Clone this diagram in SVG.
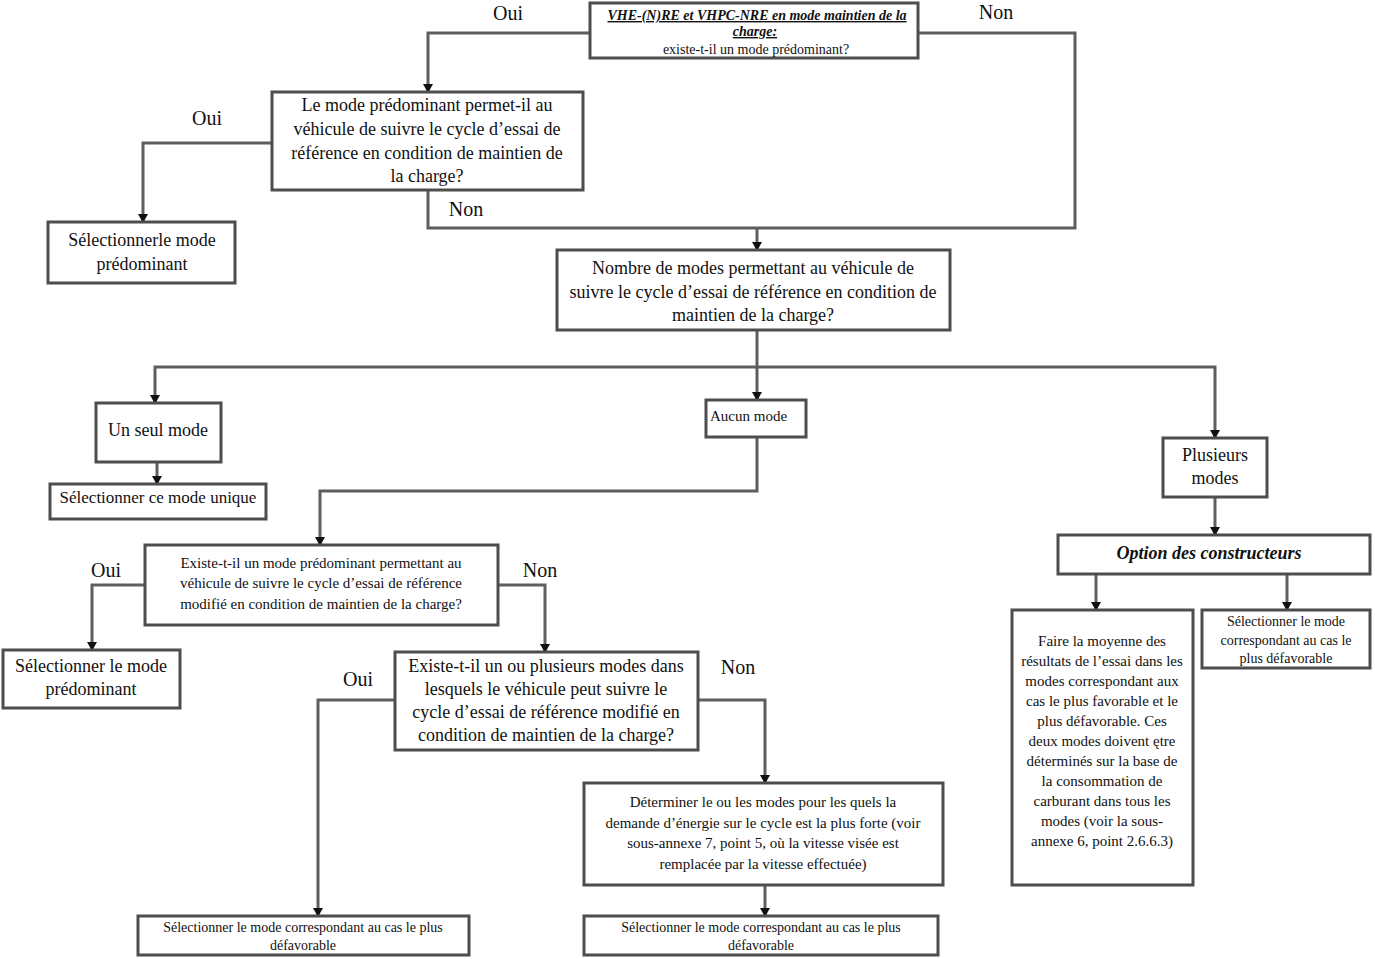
<svg xmlns="http://www.w3.org/2000/svg" width="1375" height="959" viewBox="0 0 1375 959">
<defs>
<marker id="ah" markerUnits="userSpaceOnUse" markerWidth="9" markerHeight="10" refX="8" refY="5" orient="auto" viewBox="0 0 9 10">
<path d="M0,0 L9,5 L0,10 Z" fill="#111"/>
</marker>
<style>
.box{fill:#fff;stroke:#4d4d4d;stroke-width:3}
.ln{fill:none;stroke:#5e5e5e;stroke-width:3}
.arr{fill:none;stroke:#5e5e5e;stroke-width:3;marker-end:url(#ah)}
text{font-family:"Liberation Serif","Times New Roman",serif;fill:#111;text-anchor:middle}
.lbl{font-size:20px}
.t18{font-size:18px}
.t17{font-size:17px}
.t15{font-size:15px}
.t14{font-size:14px}
</style>
</defs>
<rect width="1375" height="959" fill="#fff"/>
<g id="connectors">
<polyline class="arr" points="590,33 428,33 428,92"/>
<polyline class="ln" points="918,33 1075,33 1075,228 757,228"/>
<polyline class="arr" points="272,143 143,143 143,222"/>
<polyline class="ln" points="428,190 428,228 757,228"/>
<line class="arr" x1="757" y1="228" x2="757" y2="250"/>
<line class="ln" x1="757" y1="330" x2="757" y2="367"/>
<polyline class="arr" points="757,367 155,367 155,403"/>
<line class="arr" x1="757" y1="367" x2="757" y2="400"/>
<polyline class="arr" points="757,367 1215,367 1215,438"/>
<line class="arr" x1="157" y1="462" x2="157" y2="484"/>
<polyline class="arr" points="757,437 757,491 320,491 320,545"/>
<line class="arr" x1="1215" y1="497" x2="1215" y2="535"/>
<line class="arr" x1="1096" y1="574" x2="1096" y2="610"/>
<line class="arr" x1="1287" y1="574" x2="1287" y2="610"/>
<polyline class="arr" points="145,585 92,585 92,650"/>
<polyline class="arr" points="498,585 545,585 545,652"/>
<polyline class="arr" points="395,700 318,700 318,916"/>
<polyline class="arr" points="698,700 765,700 765,783"/>
<line class="arr" x1="765" y1="885" x2="765" y2="916"/>
</g>
<g id="labels">
<text class="lbl" x="508" y="20">Oui</text>
<text class="lbl" x="996" y="19">Non</text>
<text class="lbl" x="207" y="125">Oui</text>
<text class="lbl" x="466" y="216">Non</text>
<text class="lbl" x="106" y="577">Oui</text>
<text class="lbl" x="540" y="577">Non</text>
<text class="lbl" x="358" y="686">Oui</text>
<text class="lbl" x="738" y="674">Non</text>
</g>
<g id="n-top">
<rect class="box" x="590" y="3" width="328" height="55"/>
<text class="t14" x="757" y="20" font-weight="bold" font-style="italic" text-decoration="underline">VHE-(N)RE et VHPC-NRE en mode maintien de la</text>
<text class="t14" x="755" y="36" font-weight="bold" font-style="italic" text-decoration="underline">charge:</text>
<text class="t14" x="756" y="54">existe-t-il un mode prédominant?</text>
</g>
<g id="n-q1">
<rect class="box" x="272" y="92" width="311" height="98"/>
<text class="t18" x="427" y="111">Le mode prédominant permet-il au</text>
<text class="t18" x="427" y="135">véhicule de suivre le cycle d’essai de</text>
<text class="t18" x="427" y="159">référence en condition de maintien de</text>
<text class="t18" x="427" y="182">la charge?</text>
</g>
<g id="n-sel1">
<rect class="box" x="48" y="222" width="187" height="61"/>
<text class="t18" x="142" y="246">Sélectionnerle mode</text>
<text class="t18" x="142" y="270">prédominant</text>
</g>
<g id="n-nombre">
<rect class="box" x="557" y="250" width="393" height="80"/>
<text class="t18" x="753" y="274">Nombre de modes permettant au véhicule de</text>
<text class="t18" x="753" y="298">suivre le cycle d’essai de référence en condition de</text>
<text class="t18" x="753" y="321">maintien de la charge?</text>
</g>
<g id="n-unseul">
<rect class="box" x="96" y="403" width="125" height="59"/>
<text class="t18" x="158" y="436">Un seul mode</text>
</g>
<g id="n-selunique">
<rect class="box" x="50" y="484" width="216" height="35"/>
<text class="t17" x="158" y="503">Sélectionner ce mode unique</text>
</g>
<g id="n-aucun">
<rect class="box" x="706" y="400" width="100" height="37"/>
<text class="t15" x="710" y="421" style="text-anchor:start">Aucun mode</text>
</g>
<g id="n-plusieurs">
<rect class="box" x="1163" y="438" width="104" height="59"/>
<text class="t18" x="1215" y="461">Plusieurs</text>
<text class="t18" x="1215" y="484">modes</text>
</g>
<g id="n-option">
<rect class="box" x="1058" y="535" width="312" height="39"/>
<text class="t18" x="1209" y="559" font-weight="bold" font-style="italic">Option des constructeurs</text>
</g>
<g id="n-moyenne">
<rect class="box" x="1012" y="610" width="181" height="275"/>
<text class="t15" x="1102" y="646">Faire la moyenne des</text>
<text class="t15" x="1102" y="666">résultats de l’essai dans les</text>
<text class="t15" x="1102" y="686">modes correspondant aux</text>
<text class="t15" x="1102" y="706">cas le plus favorable et le</text>
<text class="t15" x="1102" y="726">plus défavorable. Ces</text>
<text class="t15" x="1102" y="746">deux modes doivent ętre</text>
<text class="t15" x="1102" y="766">déterminés sur la base de</text>
<text class="t15" x="1102" y="786">la consommation de</text>
<text class="t15" x="1102" y="806">carburant dans tous les</text>
<text class="t15" x="1102" y="826">modes (voir la sous-</text>
<text class="t15" x="1102" y="846">annexe 6, point 2.6.6.3)</text>
</g>
<g id="n-selright">
<rect class="box" x="1202" y="610" width="168" height="58"/>
<text class="t14" x="1286" y="626">Sélectionner le mode</text>
<text class="t14" x="1286" y="645">correspondant au cas le</text>
<text class="t14" x="1286" y="663">plus défavorable</text>
</g>
<g id="n-q2">
<rect class="box" x="145" y="545" width="353" height="80"/>
<text class="t15" x="321" y="568">Existe-t-il un mode prédominant permettant au</text>
<text class="t15" x="321" y="588">véhicule de suivre le cycle d’essai de référence</text>
<text class="t15" x="321" y="609">modifié en condition de maintien de la charge?</text>
</g>
<g id="n-sel2">
<rect class="box" x="3" y="650" width="177" height="58"/>
<text class="t18" x="91" y="672">Sélectionner le mode</text>
<text class="t18" x="91" y="695">prédominant</text>
</g>
<g id="n-q3">
<rect class="box" x="395" y="652" width="303" height="98"/>
<text class="t18" x="546" y="672">Existe-t-il un ou plusieurs modes dans</text>
<text class="t18" x="546" y="695">lesquels le véhicule peut suivre le</text>
<text class="t18" x="546" y="718">cycle d’essai de référence modifié en</text>
<text class="t18" x="546" y="741">condition de maintien de la charge?</text>
</g>
<g id="n-determiner">
<rect class="box" x="584" y="783" width="359" height="102"/>
<text class="t15" x="763" y="807">Déterminer le ou les modes pour les quels la</text>
<text class="t15" x="763" y="828">demande d’énergie sur le cycle est la plus forte (voir</text>
<text class="t15" x="763" y="848">sous-annexe 7, point 5, où la vitesse visée est</text>
<text class="t15" x="763" y="869">remplacée par la vitesse effectuée)</text>
</g>
<g id="n-bottomleft">
<rect class="box" x="138" y="916" width="331" height="39"/>
<text class="t14" x="303" y="932">Sélectionner le mode correspondant au cas le plus</text>
<text class="t14" x="303" y="950">défavorable</text>
</g>
<g id="n-bottomright">
<rect class="box" x="584" y="916" width="354" height="39"/>
<text class="t14" x="761" y="932">Sélectionner le mode correspondant au cas le plus</text>
<text class="t14" x="761" y="950">défavorable</text>
</g>
</svg>
